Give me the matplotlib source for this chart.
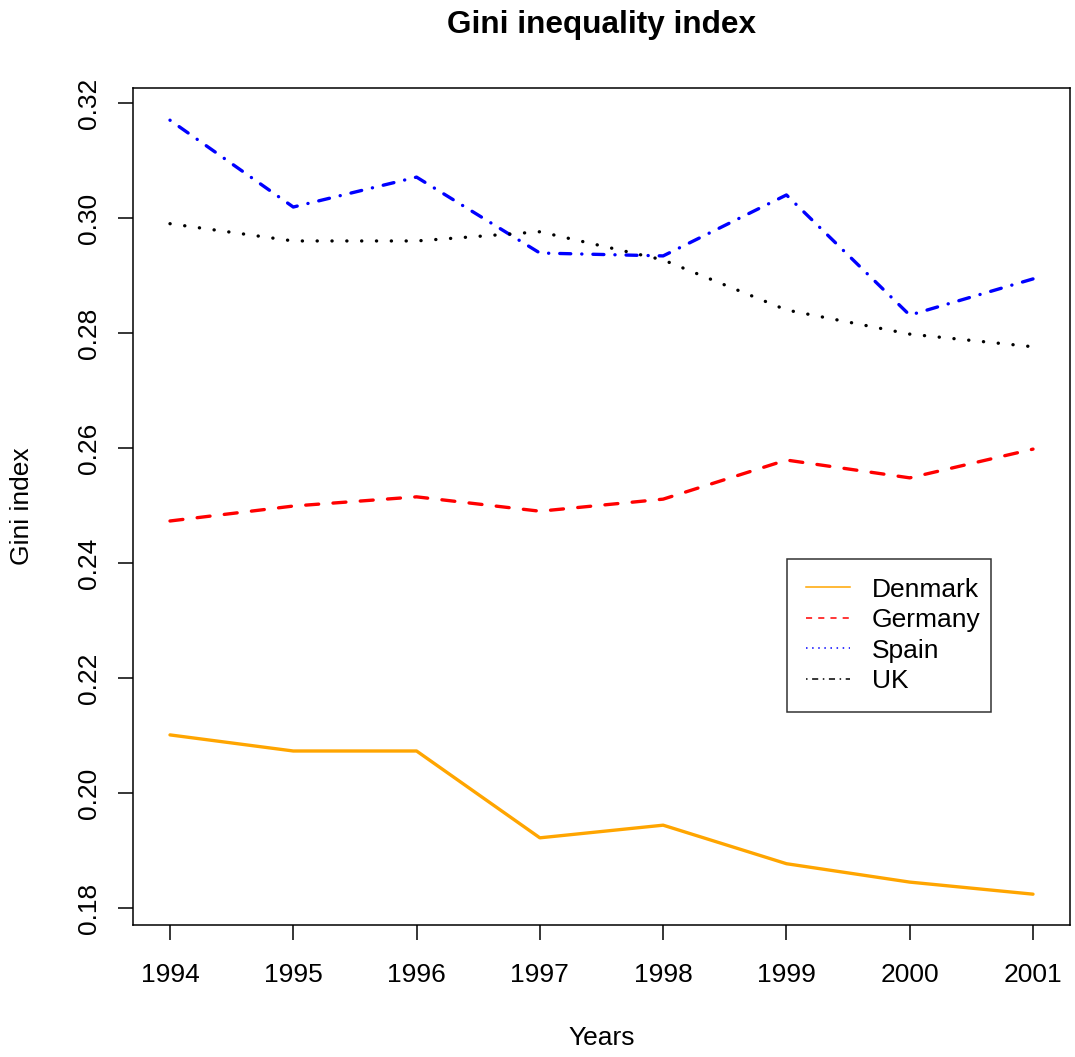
import numpy as np
import matplotlib
matplotlib.use("Agg")
import matplotlib.pyplot as plt
from matplotlib.lines import Line2D

plt.rcParams['font.family'] = ['Liberation Sans', 'DejaVu Sans']

years = [1994, 1995, 1996, 1997, 1998, 1999, 2000, 2001]
denmark = [0.2101, 0.2073, 0.2073, 0.1922, 0.1944, 0.1877, 0.1845, 0.1824]
germany = [0.2473, 0.2499, 0.2515, 0.2490, 0.2511, 0.2579, 0.2548, 0.2598]
spain = [0.3170, 0.3019, 0.3071, 0.2939, 0.2934, 0.3040, 0.2831, 0.2894]
uk = [0.2990, 0.2960, 0.2960, 0.2976, 0.2927, 0.2840, 0.2798, 0.2776]
legend_labels = ['Denmark', 'Germany', 'Spain', 'UK']
y_ticks = [0.18, 0.20, 0.22, 0.24, 0.26, 0.28, 0.30, 0.32]

W, H = 1075, 1057
fig = plt.figure(figsize=(W / 100, H / 100), dpi=100)
ax = fig.add_axes([133 / W, 1 - 925 / H, 937 / W, 837 / H])

lw = 2.4
ax.plot(years, denmark, color='#FFA500', lw=lw, solid_capstyle='round', solid_joinstyle='round')
ax.plot(years, germany, color='#FF0000', lw=lw, dashes=(3.9, 4.3),
        dash_capstyle='round', dash_joinstyle='round')
ax.plot(years, spain, color='#0000FF', lw=lw, dashes=(0.05, 3.3, 3.3, 3.3),
        dash_capstyle='round', dash_joinstyle='round')
ax.plot(years, uk, color='black', lw=lw, dashes=(0.05, 4.4),
        dash_capstyle='round')

ax.set_xlim(1993.70, 2001.30)
ax.set_ylim(0.17704, 0.3226)
ax.set_xticks(years)
ax.set_xticklabels([str(y) for y in years])
ax.set_yticks(y_ticks)
ax.set_yticklabels([f'{v:.2f}' for v in y_ticks], rotation=90, va='center')

for sp in ax.spines.values():
    sp.set_linewidth(1.1)
ax.tick_params(axis='both', direction='out', length=11, width=1.1, labelsize=19)
ax.tick_params(axis='x', pad=16)
ax.tick_params(axis='y', pad=12)

handles = [
    Line2D([], [], color='#FFA500', lw=1.1),
    Line2D([], [], color='#FF0000', lw=1.1, dashes=(4, 4)),
    Line2D([], [], color='#0000FF', lw=1.1, dashes=(1, 3)),
    Line2D([], [], color='black', lw=1.1, dashes=(1, 3, 4, 3)),
]
leg = ax.legend(handles, legend_labels, loc='lower left',
                bbox_to_anchor=(0.698, 0.2545, 0.2177, 0.179), mode='expand',
                fontsize=19, frameon=True, fancybox=False, handlelength=1.67,
                handletextpad=0.83, borderpad=0.72, labelspacing=0.245,
                borderaxespad=0)
leg.get_frame().set_edgecolor('black')
leg.get_frame().set_linewidth(1.1)

fig.text(601.5 / W, 1 - 25 / H, 'Gini inequality index', ha='center', va='center',
         fontsize=22.7, fontweight='bold')
fig.text(601.5 / W, 1 - 1038 / H, 'Years', ha='center', va='center', fontsize=19)
fig.text(22 / W, 1 - 506 / H, 'Gini index', ha='center', va='center', fontsize=19,
         rotation=90)

fig.savefig('out.png', dpi=100)
